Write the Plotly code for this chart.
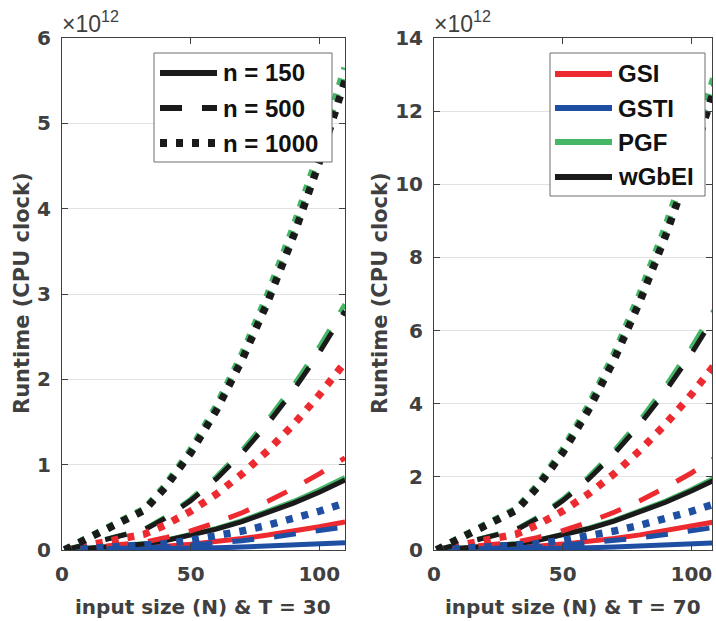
import plotly.graph_objects as go

# ---------------- data (values in units of 1e12 CPU clock) ----------------
N = [1, 32, 40, 50, 60, 70, 80, 90, 100, 110]

# T = 30
gsi_150_t30 = [0.0, 0.028, 0.044, 0.068, 0.098, 0.134, 0.175, 0.221, 0.273, 0.33]
gsi_500_t30 = [0.0, 0.091, 0.143, 0.223, 0.321, 0.437, 0.571, 0.723, 0.892, 1.08]
gsi_1000_t30 = [0.0, 0.186, 0.291, 0.455, 0.655, 0.891, 1.164, 1.472, 1.817, 2.20]
gsti_150_t30 = [0.0, 0.007, 0.011, 0.018, 0.025, 0.034, 0.045, 0.057, 0.070, 0.085]
gsti_500_t30 = [0.0, 0.023, 0.036, 0.056, 0.080, 0.109, 0.143, 0.181, 0.223, 0.27]
gsti_1000_t30 = [0.0, 0.047, 0.073, 0.114, 0.164, 0.223, 0.291, 0.368, 0.454, 0.55]
pgf_150_t30 = [0.0, 0.072, 0.112, 0.176, 0.253, 0.344, 0.450, 0.569, 0.702, 0.85]
pgf_500_t30 = [0.0, 0.244, 0.381, 0.595, 0.857, 1.166, 1.524, 1.927, 2.379, 2.88]
pgf_1000_t30 = [0.001, 0.478, 0.747, 1.167, 1.681, 2.288, 2.989, 3.780, 4.667, 5.65]
wgbei_150_t30 = [0.0, 0.069, 0.108, 0.169, 0.244, 0.332, 0.434, 0.549, 0.677, 0.82]
wgbei_500_t30 = [0.0, 0.237, 0.370, 0.578, 0.833, 1.134, 1.481, 1.873, 2.313, 2.80]
wgbei_1000_t30 = [0.001, 0.465, 0.727, 1.136, 1.636, 2.228, 2.910, 3.680, 4.543, 5.50]

# T = 70
gsi_150_t70 = [0.0, 0.066, 0.103, 0.161, 0.232, 0.316, 0.413, 0.522, 0.644, 0.78]
gsi_500_t70 = [0.0, 0.216, 0.337, 0.527, 0.759, 1.033, 1.349, 1.706, 2.106, 2.55]
gsi_1000_t70 = [0.001, 0.436, 0.681, 1.064, 1.532, 2.086, 2.724, 3.445, 4.254, 5.15]
gsti_150_t70 = [0.0, 0.017, 0.026, 0.041, 0.060, 0.081, 0.106, 0.134, 0.165, 0.2]
gsti_500_t70 = [0.0, 0.053, 0.083, 0.130, 0.187, 0.255, 0.333, 0.421, 0.520, 0.63]
gsti_1000_t70 = [0.0, 0.108, 0.169, 0.264, 0.381, 0.518, 0.677, 0.856, 1.057, 1.28]
pgf_150_t70 = [0.0, 0.169, 0.264, 0.413, 0.595, 0.810, 1.058, 1.338, 1.652, 2.0]
pgf_500_t70 = [0.001, 0.567, 0.886, 1.384, 1.993, 2.714, 3.544, 4.482, 5.534, 6.7]
pgf_1000_t70 = [0.001, 1.117, 1.745, 2.727, 3.927, 5.346, 6.983, 8.831, 10.903, 13.2]
wgbei_150_t70 = [0.0, 0.165, 0.258, 0.403, 0.580, 0.790, 1.032, 1.305, 1.611, 1.95]
wgbei_500_t70 = [0.001, 0.550, 0.859, 1.343, 1.934, 2.633, 3.439, 4.349, 5.369, 6.5]
wgbei_1000_t70 = [0.001, 1.087, 1.699, 2.655, 3.823, 5.204, 6.798, 8.597, 10.614, 12.85]

methods = ["GSI", "GSTI", "PGF", "wGbEI"]
n_labels = ["n = 150", "n = 500", "n = 1000"]
x_titles = ["input size (N) & T = 30", "input size (N) & T = 70"]
y_title = "Runtime (CPU clock)"
y_ticks_left = [0, 1, 2, 3, 4, 5, 6]
y_ticks_right = [0, 2, 4, 6, 8, 10, 12, 14]
x_ticks = [0, 50, 100]

series_t30 = {
    "GSI": [gsi_150_t30, gsi_500_t30, gsi_1000_t30],
    "GSTI": [gsti_150_t30, gsti_500_t30, gsti_1000_t30],
    "PGF": [pgf_150_t30, pgf_500_t30, pgf_1000_t30],
    "wGbEI": [wgbei_150_t30, wgbei_500_t30, wgbei_1000_t30],
}
series_t70 = {
    "GSI": [gsi_150_t70, gsi_500_t70, gsi_1000_t70],
    "GSTI": [gsti_150_t70, gsti_500_t70, gsti_1000_t70],
    "PGF": [pgf_150_t70, pgf_500_t70, pgf_1000_t70],
    "wGbEI": [wgbei_150_t70, wgbei_500_t70, wgbei_1000_t70],
}

# ---------------- styles ----------------
colors = {"GSI": "#EC2A2F", "GSTI": "#1F4FA3", "PGF": "#45B566", "wGbEI": "#1A1A1A"}
dash_styles = ["solid", "22px,20px", "7px,9px"]
widths = [5, 5, 7.5]
W, H = 716, 621
TXT = "#404040"

fig = go.Figure()

for panel, series in enumerate([series_t30, series_t70]):
    xa = "x" if panel == 0 else "x2"
    ya = "y" if panel == 0 else "y2"
    for k in range(3):
        for m in methods:
            fig.add_trace(go.Scatter(
                x=N, y=series[m][k], mode="lines", xaxis=xa, yaxis=ya,
                line=dict(color=colors[m], width=widths[k], dash=dash_styles[k]),
                name=f"{m} {n_labels[k]}", showlegend=False, hoverinfo="skip"))

tickfont = dict(family="DejaVu Sans", size=20, color=TXT, weight="bold")
titlefont = dict(family="DejaVu Sans", size=20, color=TXT, weight="bold")


def xaxis(dom, rng, anchor):
    return dict(domain=dom, range=rng, tickvals=x_ticks, showline=True, linecolor=TXT,
                linewidth=1, mirror="ticks", ticks="inside", ticklen=6, tickcolor=TXT,
                showgrid=False, zeroline=False, tickfont=tickfont, ticklabelstandoff=6,
                automargin=False, anchor=anchor)


def yaxis(dom, rng, tv, anchor):
    return dict(domain=dom, range=rng, tickvals=tv, showline=True, linecolor=TXT,
                linewidth=1, mirror="ticks", ticks="inside", ticklen=6, tickcolor=TXT,
                showgrid=True, gridcolor="#E2E2E2", gridwidth=1, zeroline=False,
                tickfont=tickfont, ticklabelstandoff=6, anchor=anchor, automargin=False)


ydom = [71 / H, 583 / H]
fig.update_layout(
    width=W, height=H, autosize=False,
    margin=dict(l=0, r=0, t=0, b=0, pad=0),
    plot_bgcolor="white", paper_bgcolor="white",
    xaxis=xaxis([62 / W, 345 / W], [0, 110], "y"),
    yaxis=yaxis(ydom, [0, 6], y_ticks_left, "x"),
    xaxis2=xaxis([434 / W, 712 / W], [0, 108], "y2"),
    yaxis2=yaxis(ydom, [0, 14], y_ticks_right, "x2"),
    showlegend=False,
)


def px(xp):
    return xp / W


def py(yp):
    return 1 - yp / H


shapes = []
annotations = []
# axis titles
for xc, t in zip([203, 573], x_titles):
    annotations.append(dict(x=px(xc), y=py(607), xref="paper", yref="paper", text=t,
                            showarrow=False, xanchor="center", yanchor="middle",
                            font=titlefont))
for xc in [22, 380]:
    annotations.append(dict(x=px(xc), y=py(293), xref="paper", yref="paper", text=y_title,
                            showarrow=False, xanchor="center", yanchor="middle",
                            textangle=-90,
                            font=dict(family="DejaVu Sans", size=21, color=TXT,
                                      weight="bold")))
# exponent labels
for x0 in [60, 432]:
    annotations.append(dict(x=px(x0), y=py(22), xref="paper", yref="paper",
                            text="×10<sup>12</sup>", showarrow=False, xanchor="left",
                            yanchor="middle",
                            font=dict(family="Liberation Sans", size=23, color=TXT)))

legfont = dict(family="Liberation Sans", size=24, color="#111111", weight="bold")
# legend 1 : n values
shapes.append(dict(type="rect", xref="paper", yref="paper", x0=px(154), x1=px(332),
                   y0=py(162), y1=py(53), line=dict(color="#6E6E6E", width=1),
                   fillcolor="white", layer="above"))
for k, yy in enumerate([73, 108, 143]):
    shapes.append(dict(type="line", xref="paper", yref="paper", x0=px(160), x1=px(217),
                       y0=py(yy), y1=py(yy), layer="above",
                       line=dict(color="#1A1A1A", width=6 if k < 2 else 8,
                                 dash=dash_styles[k])))
    annotations.append(dict(x=px(221), y=py(yy), xref="paper", yref="paper",
                            text=n_labels[k], showarrow=False, xanchor="left",
                            yanchor="middle", font=legfont))
# legend 2 : methods
shapes.append(dict(type="rect", xref="paper", yref="paper", x0=px(550), x1=px(705),
                   y0=py(196), y1=py(53), line=dict(color="#6E6E6E", width=1),
                   fillcolor="white", layer="above"))
for m, yy in zip(methods, [74, 108, 142, 177]):
    shapes.append(dict(type="line", xref="paper", yref="paper", x0=px(555), x1=px(612),
                       y0=py(yy), y1=py(yy), layer="above",
                       line=dict(color=colors[m], width=6)))
    annotations.append(dict(x=px(616), y=py(yy), xref="paper", yref="paper",
                            text=m, showarrow=False, xanchor="left",
                            yanchor="middle", font=legfont))

fig.update_layout(shapes=shapes, annotations=annotations)
fig.write_html("out.html", config={"displayModeBar": False},
               post_script="document.body.style.margin='0';document.body.style.overflow='hidden';")
